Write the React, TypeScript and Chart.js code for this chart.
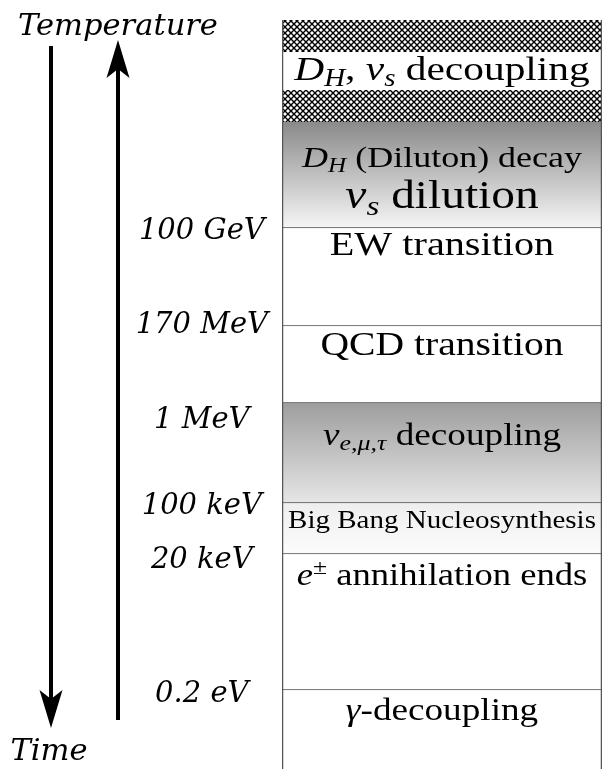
import React, { useEffect, useRef } from 'react';
import { Chart, registerables } from 'chart.js';

Chart.register(...registerables);

// ---- Data (schematic cosmic-time axis, 0 = earliest shown, 100 = latest) ----
const bandNames = [
  'hatched (top)',
  'DH, νs decoupling',
  'hatched (bottom)',
  'DH decay / νs dilution',
  'EW transition',
  'QCD transition',
  'ν decoupling',
  'BBN',
  'e± annihilation ends',
  'γ-decoupling',
];
const bandStarts = [0, 4.27, 9.35, 13.62, 27.77, 40.85, 51.13, 64.49, 71.3, 89.45];
const bandEnds = [4.27, 9.35, 13.62, 27.77, 40.85, 51.13, 64.49, 71.3, 89.45, 100];
const bandFills = ['hatch', 'white', 'hatch', 'grayA', 'white', 'white', 'grayB', 'grayC', 'white', 'white'];

const tickValues = [28.3, 40.85, 53.5, 65.0, 72.1, 90.0];
const tickLabels = ['100 GeV', '170 MeV', '1 MeV', '100 keV', '20 keV', '0.2 eV'];

// text rows inside the box: value = baseline position on the time axis
const textBaselines = [8.01, 19.63, 25.1, 31.38, 44.73, 56.74, 67.82, 75.43, 93.46];
type Seg = { t: string; i?: boolean; sub?: boolean; sup?: boolean };
const textLines: Seg[][] = [
  [{ t: 'D', i: true }, { t: 'H', i: true, sub: true }, { t: ', ' }, { t: 'ν', i: true }, { t: 's', i: true, sub: true }, { t: ' decoupling' }],
  [{ t: 'D', i: true }, { t: 'H', i: true, sub: true }, { t: ' (Diluton) decay' }],
  [{ t: 'ν', i: true }, { t: 's', i: true, sub: true }, { t: ' dilution' }],
  [{ t: 'EW transition' }],
  [{ t: 'QCD transition' }],
  [{ t: 'ν', i: true }, { t: 'e,μ,τ', i: true, sub: true }, { t: ' decoupling' }],
  [{ t: 'Big Bang Nucleosynthesis' }],
  [{ t: 'e', i: true }, { t: '±', sup: true }, { t: ' annihilation ends' }],
  [{ t: 'γ', i: true }, { t: '-decoupling' }],
];

const arrowDown = [3.47, 94.53]; // Time arrow (from, to)
const arrowUp = [93.46, 2.67]; // Temperature arrow (from, to)

// ---- Styles ----
const textSizes = [34.5, 30, 39.5, 33.5, 33, 31, 24.2, 30.5, 31];
const BOX_FONT = 'Liberation Serif';
const H_SCALE = 1.2;
const LABEL_FONT = 'DejaVu Serif';
const gradStops: Record<string, [string, string]> = {
  grayA: ['#8a8a8a', '#f6f6f6'],
  grayB: ['#9e9e9e', '#e6e6e6'],
  grayC: ['#eeeeee', '#fcfcfc'],
};

function makeHatch(): CanvasPattern | string {
  const c = document.createElement('canvas');
  c.width = 6;
  c.height = 6;
  const g = c.getContext('2d');
  if (!g) return '#777';
  g.fillStyle = '#ffffff';
  g.fillRect(0, 0, 6, 6);
  g.strokeStyle = '#000000';
  g.lineWidth = 1.4;
  g.beginPath();
  g.moveTo(-1, -1);
  g.lineTo(7, 7);
  g.moveTo(7, -1);
  g.lineTo(-1, 7);
  g.stroke();
  const p = g.createPattern(c, 'repeat');
  return p || '#777';
}

function drawRich(ctx: CanvasRenderingContext2D, segs: Seg[], cx: number, baseY: number, size: number) {
  const fontOf = (s: Seg) => {
    const sz = s.sub || s.sup ? size * 0.7 : size;
    return `${s.i ? 'italic ' : ''}${sz}px "${BOX_FONT}", serif`;
  };
  let total = 0;
  const widths = segs.map((s) => {
    ctx.font = fontOf(s);
    const w = ctx.measureText(s.t).width;
    total += w;
    return w;
  });
  ctx.save();
  ctx.translate(cx, baseY);
  ctx.scale(H_SCALE, 1);
  ctx.fillStyle = '#000';
  ctx.textAlign = 'left';
  ctx.textBaseline = 'alphabetic';
  let x = -total / 2;
  segs.forEach((s, k) => {
    ctx.font = fontOf(s);
    let dy = 0;
    if (s.sub) dy = size * 0.17;
    if (s.sup) dy = -size * 0.36;
    ctx.fillText(s.t, x, dy);
    x += widths[k];
  });
  ctx.restore();
}

function drawArrow(ctx: CanvasRenderingContext2D, x: number, y0: number, y1: number) {
  const dir = y1 > y0 ? 1 : -1;
  const headLen = 38;
  const half = 11.5;
  const notch = 9;
  ctx.save();
  ctx.strokeStyle = '#000';
  ctx.fillStyle = '#000';
  ctx.lineWidth = 4;
  ctx.beginPath();
  ctx.moveTo(x, y0);
  ctx.lineTo(x, y1 - dir * (headLen - notch));
  ctx.stroke();
  ctx.beginPath();
  ctx.moveTo(x, y1);
  ctx.lineTo(x - half, y1 - dir * headLen);
  ctx.lineTo(x, y1 - dir * (headLen - notch));
  ctx.lineTo(x + half, y1 - dir * headLen);
  ctx.closePath();
  ctx.fill();
  ctx.restore();
}

const overlayPlugin = {
  id: 'overlay',
  afterDraw(chart: any) {
    const { ctx, chartArea, scales } = chart;
    const ys = scales.y;
    const cx = (chartArea.left + chartArea.right) / 2;
    textLines.forEach((segs, k) => {
      drawRich(ctx, segs, cx, ys.getPixelForValue(textBaselines[k]), textSizes[k]);
    });
    const leftPad = chart.options.layout.padding.left;
    const timeX = 51;
    drawArrow(ctx, timeX, ys.getPixelForValue(arrowDown[0]), ys.getPixelForValue(arrowDown[1]));
    drawArrow(ctx, leftPad, ys.getPixelForValue(arrowUp[0]), ys.getPixelForValue(arrowUp[1]));
    ctx.save();
    ctx.fillStyle = '#000';
    ctx.textAlign = 'center';
    ctx.textBaseline = 'alphabetic';
    ctx.font = `italic 30.5px "${LABEL_FONT}", serif`;
    ctx.fillText('Temperature', leftPad, 35);
    ctx.fillText('Time', timeX - 2, 760);
    ctx.restore();
  },
};

export default function App() {
  const ref = useRef<HTMLCanvasElement | null>(null);
  useEffect(() => {
    document.body.style.margin = '0';
    const canvas = ref.current;
    if (!canvas) return;
    const hatch = makeHatch();
    const datasets = bandNames.map((name, k) => {
      const fill = bandFills[k];
      const bottomLine = k >= 3 && k < bandNames.length - 1 ? 1 : 0;
      return {
        label: name,
        data: [[bandStarts[k], bandEnds[k]]],
        grouped: false,
        barPercentage: 1,
        categoryPercentage: 1,
        borderSkipped: false,
        borderColor: '#555555',
        borderWidth: { top: 0, bottom: bottomLine, left: 1.6, right: 1.6 },
        backgroundColor: (c: any) => {
          if (fill === 'hatch') return hatch;
          if (fill === 'white') return '#ffffff';
          const chart = c.chart;
          if (!chart.chartArea) return '#cccccc';
          const ys = chart.scales.y;
          const y0 = ys.getPixelForValue(bandStarts[k]);
          const y1 = ys.getPixelForValue(bandEnds[k]);
          const g = chart.ctx.createLinearGradient(0, y0, 0, y1);
          g.addColorStop(0, gradStops[fill][0]);
          g.addColorStop(1, gradStops[fill][1]);
          return g;
        },
      };
    });
    const chart = new Chart(canvas, {
      type: 'bar',
      data: { labels: ['timeline'], datasets: datasets as any },
      options: {
        animation: false,
        responsive: false,
        events: [],
        layout: { padding: { left: 118, right: 3, top: 20, bottom: 0 } },
        plugins: { legend: { display: false }, tooltip: { enabled: false } },
        scales: {
          x: { display: false },
          y: {
            type: 'linear',
            reverse: true,
            min: 0,
            max: 100,
            grid: { display: false, drawTicks: false },
            border: { display: false },
            afterFit: (axis: any) => {
              axis.width = 164;
              axis.paddingTop = 0;
              axis.paddingBottom = 0;
            },
            afterBuildTicks: (axis: any) => {
              axis.ticks = tickValues.map((v) => ({ value: v }));
            },
            ticks: {
              autoSkip: false,
              crossAlign: 'center',
              padding: 14,
              color: '#000',
              font: { family: LABEL_FONT, style: 'italic', size: 29 },
              callback: (_v: any, i: number) => tickLabels[i],
            },
          },
        },
      },
      plugins: [overlayPlugin],
    });
    return () => chart.destroy();
  }, []);
  return (
    <div style={{ width: 605, height: 769 }}>
      <canvas ref={ref} width={605} height={769} />
    </div>
  );
}
